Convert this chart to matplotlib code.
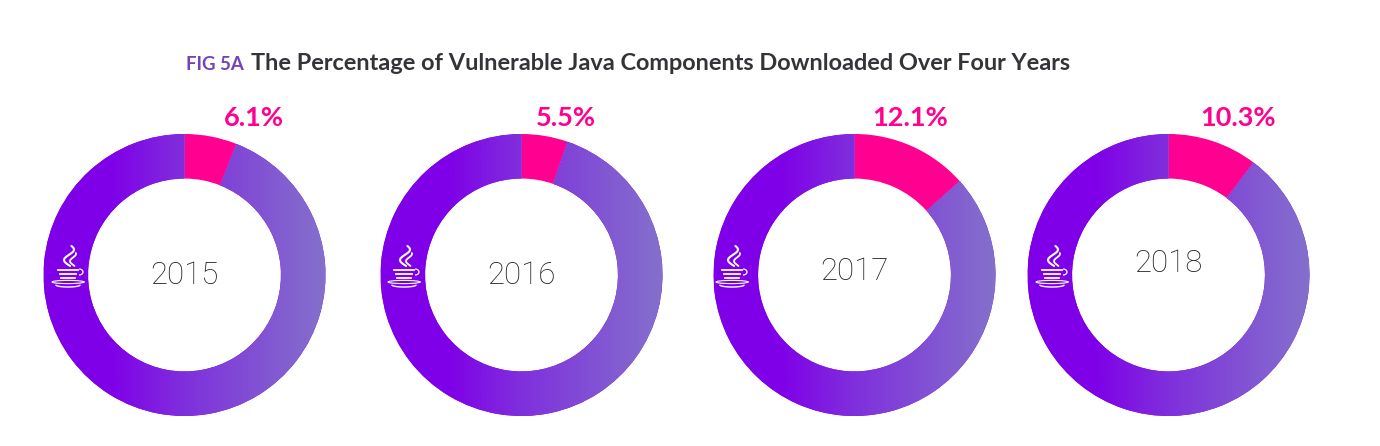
import numpy as np
import matplotlib
matplotlib.use('Agg')
import matplotlib.pyplot as plt
from matplotlib.colors import LinearSegmentedColormap

plt.rcParams['font.family'] = ['Lato', 'DejaVu Sans']

years = ['2015', '2016', '2017', '2018']
labels = ['6.1%', '5.5%', '12.1%', '10.3%']
# slice sizes as drawn, the 2017 slice is drawn bigger than its label
shares = [6.0, 5.3, 13.4, 10.3]

W, H = 1380, 446
centers_x = [184.5, 521.5, 854.5, 1168.5]
center_y = 275
radius = 141
label_x = [254, 566, 910, 1238]
year_y = [276, 276, 271, 264]
icon_x = [68, 404, 732, 1052]

pink = '#FF0090'
grad = LinearSegmentedColormap.from_list(
    'ring', [(0, '#7F00E8'), (0.24, '#7F00E8'), (0.5, '#7F30DC'), (0.9, '#8364CF'), (1, '#8470CC')])

fig = plt.figure(figsize=(W / 100, H / 100), dpi=100)
fig.patch.set_facecolor('white')


def draw_java(ax, cx, top):
    # small cup logo, unit is one pixel
    t = np.linspace(0, 1, 30)
    ax.plot(cx + 1 + 5 * np.sin(t * 6.0 + 0.5), top + 2 + 20 * t, color='white', lw=1.5, solid_capstyle='round')
    ax.plot(cx + 5 + 3 * np.sin(t * 5.6 + 1.2), top + 9 + 13 * t, color='white', lw=1.3, solid_capstyle='round')
    for dy, half in [(26, 10), (30, 8), (34, 7)]:
        ax.plot([cx - half, cx + half], [top + dy, top + dy], color='white', lw=1.3)
    a = np.linspace(-1.4, 1.4, 20)
    ax.plot(cx + 11 + 4 * np.cos(a), top + 28 + 3 * np.sin(a), color='white', lw=0.9)
    a = np.linspace(0, 2 * np.pi, 50)
    ax.plot(cx + 16 * np.cos(a), top + 38 + 1.6 * np.sin(a), color='white', lw=0.8)
    a = np.linspace(0.1, np.pi - 0.1, 20)
    ax.plot(cx + 12 * np.cos(a), top + 41 + 2 * np.sin(a), color='white', lw=1.0)


for year, share, cx in zip(years, shares, centers_x):
    ax = fig.add_axes([(cx - radius - 2) / W, 1 - (center_y + radius + 2) / H,
                       (2 * radius + 4) / W, (2 * radius + 4) / H])
    lim = (radius + 2) / radius
    wedges, _ = ax.pie([share, 100 - share], colors=[pink, '#7F00E8'], startangle=90,
                       counterclock=False, radius=1,
                       wedgeprops=dict(width=0.316, linewidth=0))
    ax.set_aspect('equal')
    ax.axis('off')
    # horizontal gradient on the big slice
    img = ax.imshow(np.linspace(0, 1, 256).reshape(1, -1), extent=(-1, 1, -1, 1),
                    cmap=grad, aspect='auto', zorder=wedges[1].get_zorder() + 0.5)
    img.set_clip_path(wedges[1])
    ax.set_xlim(-lim, lim)
    ax.set_ylim(-lim, lim)

# overlay in pixel coords for text and logos
over = fig.add_axes([0, 0, 1, 1])
over.set_xlim(0, W)
over.set_ylim(H, 0)
over.axis('off')
over.patch.set_alpha(0)

for year, label, cx, lx, yy, ix in zip(years, labels, centers_x, label_x, year_y, icon_x):
    over.text(cx, yy, year, ha='center', va='center', fontsize=22.5, color='#1f1f24',
              family=['Roboto', 'DejaVu Sans'], fontweight='light')
    over.text(lx, 118, label, ha='center', va='center', fontsize=19.5, color=pink, fontweight='bold')
    draw_java(over, ix, 244)

over.text(186, 65, 'FIG 5A', ha='left', va='center', fontsize=13.4, color='#7443B8', fontweight='bold')
over.text(251, 64, 'The Percentage of Vulnerable Java Components Downloaded Over Four Years',
          ha='left', va='center', fontsize=16.9, color='#333338', fontweight='bold')

fig.savefig('out.png', dpi=100)
plt.close(fig)
